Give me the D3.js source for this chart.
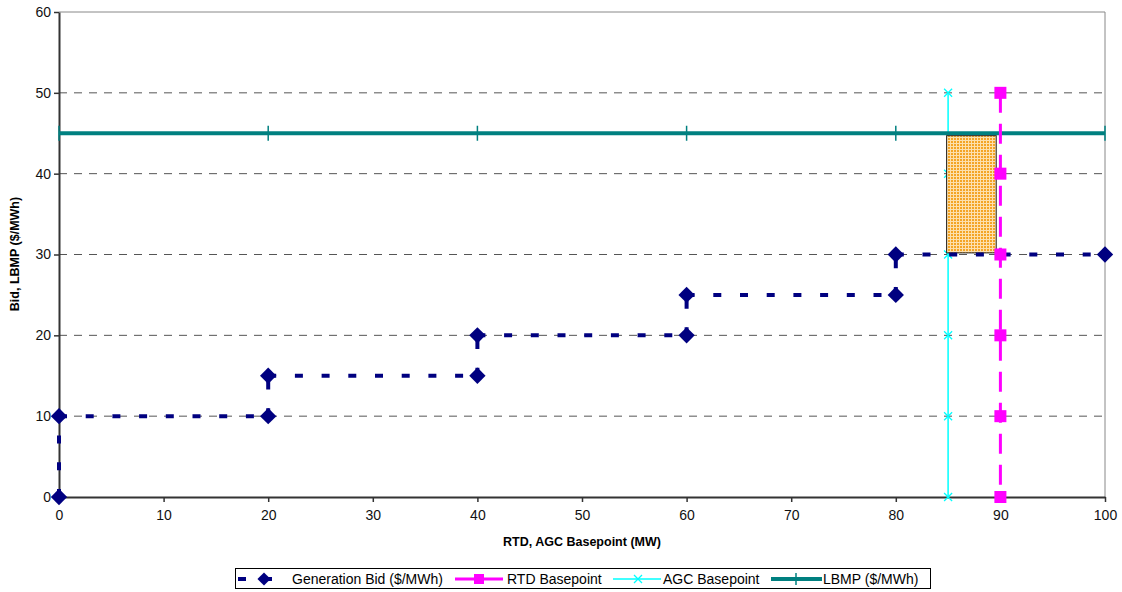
<!DOCTYPE html>
<html>
<head>
<meta charset="utf-8">
<script src="https://cdn.jsdelivr.net/npm/d3@7"></script>
<style>
  body { margin: 0; background: #fff; }
  svg { font-family: "Liberation Sans", Arial, sans-serif; }
</style>
</head>
<body>
<div class="chart"></div>
<script>
// data
const bidX = [0, 0, 20, 20, 40, 40, 60, 60, 80, 80, 100];
const bidY = [0, 10, 10, 15, 15, 20, 20, 25, 25, 30, 30];
const rtdX = [90, 90, 90, 90, 90, 90];
const rtdY = [0, 10, 20, 30, 40, 50];
const agcX = [85, 85, 85, 85, 85, 85];
const agcY = [0, 10, 20, 30, 40, 50];
const lbmpX = [0, 20, 40, 60, 80, 100];
const lbmpY = [45, 45, 45, 45, 45, 45];
const boxX = [85, 89.6];
const boxY = [30.2, 44.7];
const xTicks = [0, 10, 20, 30, 40, 50, 60, 70, 80, 90, 100];
const yTicks = [0, 10, 20, 30, 40, 50, 60];
const seriesNames = ["Generation Bid ($/MWh)", "RTD Basepoint", "AGC Basepoint", "LBMP ($/MWh)"];

const w = 1122;
const h = 592;
const padL = 59, padR = 1105, padT = 12, padB = 497;

const svg = d3.select('.chart').append('svg')
  .attr('width', w).attr('height', h);

const defs = svg.append('defs');
const pat = defs.append('pattern')
  .attr('id', 'hatch').attr('patternUnits', 'userSpaceOnUse')
  .attr('width', 3).attr('height', 3);
pat.append('rect').attr('width', 3).attr('height', 3).attr('fill', '#fde0ad');
pat.append('rect').attr('width', 2).attr('height', 2).attr('fill', '#f4a526');

const xScale = d3.scaleLinear().domain([0, 100]).range([padL, padR]);
const yScale = d3.scaleLinear().domain([0, 60]).range([padB, padT]);

// grid
svg.append('g').selectAll('line')
  .data(yTicks.filter(d => d > 0 && d < 60))
  .enter().append('line')
  .attr('x1', padL).attr('x2', padR)
  .attr('y1', d => yScale(d)).attr('y2', d => yScale(d))
  .attr('stroke', '#555').attr('stroke-width', 1)
  .attr('stroke-dasharray', '8,7');

// plot border top/right
svg.append('line').attr('x1', padL).attr('x2', padR).attr('y1', padT).attr('y2', padT)
  .attr('stroke', '#888');
svg.append('line').attr('x1', padR).attr('x2', padR).attr('y1', padT).attr('y2', padB)
  .attr('stroke', '#888');

// axes
const xAxis = d3.axisBottom(xScale).tickValues(xTicks).tickSize(5).tickSizeOuter(0).tickPadding(8);
const gx = svg.append('g').attr('transform', 'translate(0,' + padB + ')').call(xAxis);
const yAxis = d3.axisLeft(yScale).tickValues(yTicks).tickSize(5).tickSizeOuter(0).tickPadding(3);
const gy = svg.append('g').attr('transform', 'translate(' + padL + ',0)').call(yAxis);
[gx, gy].forEach(g => {
  g.select('.domain').attr('stroke', '#333').attr('stroke-width', 2);
  g.selectAll('.tick line').attr('stroke', '#333').attr('stroke-width', 1.5);
  g.selectAll('.tick text').attr('font-size', 14).attr('fill', '#111')
    .attr('font-family', '"Liberation Sans", Arial, sans-serif');
});

// axis titles
svg.append('text').text('RTD, AGC Basepoint (MW)')
  .attr('x', 582).attr('y', 546).attr('text-anchor', 'middle')
  .attr('font-size', 12.5).attr('font-weight', 'bold');
svg.append('text').text('Bid, LBMP ($/MWh)')
  .attr('transform', 'translate(19,254) rotate(-90)').attr('text-anchor', 'middle')
  .attr('font-size', 12.5).attr('font-weight', 'bold');

// AGC line
const agcPts = agcX.map((x, i) => [xScale(x), yScale(agcY[i])]);
svg.append('path').attr('d', d3.line()(agcPts))
  .attr('stroke', '#00ffff').attr('stroke-width', 1.5).attr('fill', 'none');
svg.append('g').selectAll('path').data(agcPts).enter().append('path')
  .attr('d', d => `M${d[0]-4},${d[1]-4}L${d[0]+4},${d[1]+4}M${d[0]-4},${d[1]+4}L${d[0]+4},${d[1]-4}`)
  .attr('stroke', '#00ffff').attr('stroke-width', 1.3);

// LBMP line
const lbmpPts = lbmpX.map((x, i) => [xScale(x), yScale(lbmpY[i])]);
svg.append('path').attr('d', d3.line()(lbmpPts))
  .attr('stroke', '#008080').attr('stroke-width', 4).attr('fill', 'none');
svg.append('g').selectAll('line').data(lbmpPts).enter().append('line')
  .attr('x1', d => d[0]).attr('x2', d => d[0])
  .attr('y1', d => d[1] - 7.5).attr('y2', d => d[1] + 7.5)
  .attr('stroke', '#008080').attr('stroke-width', 1.5);

// hatched box (drawn over the AGC line)
svg.append('rect')
  .attr('x', xScale(boxX[0]) - 1.5).attr('y', yScale(boxY[1]))
  .attr('width', xScale(boxX[1]) - xScale(boxX[0]) + 1.5)
  .attr('height', yScale(boxY[0]) - yScale(boxY[1]))
  .attr('fill', 'url(#hatch)').attr('stroke', '#222').attr('stroke-width', 1);

// Generation bid (segments dashed separately)
const bidPts = bidX.map((x, i) => [xScale(x), yScale(bidY[i])]);
for (let i = 0; i < bidPts.length - 1; i++) {
  svg.append('path').attr('d', d3.line()([bidPts[i], bidPts[i + 1]]))
    .attr('stroke', '#000080').attr('stroke-width', 4).attr('fill', 'none')
    .attr('stroke-dasharray', '8,18.7');
}
const diamond = d3.symbol().type(d3.symbolDiamond2).size(170);
svg.append('g').selectAll('path').data(bidPts).enter().append('path')
  .attr('d', diamond)
  .attr('transform', d => 'translate(' + d[0] + ',' + d[1] + ')')
  .attr('fill', '#000080');

// RTD line
const rtdPts = rtdX.map((x, i) => [xScale(x), yScale(rtdY[i])]);
svg.append('path').attr('d', d3.line()(rtdPts.slice().reverse()))
  .attr('stroke', '#ff00ff').attr('stroke-width', 3).attr('fill', 'none')
  .attr('stroke-dasharray', '20,11');
svg.append('g').selectAll('rect').data(rtdPts).enter().append('rect')
  .attr('x', d => d[0] - 6).attr('y', d => d[1] - 6)
  .attr('width', 12).attr('height', 12).attr('fill', '#ff00ff');

// legend
const lg = svg.append('g');
lg.append('rect').attr('x', 235.5).attr('y', 568.5).attr('width', 695).attr('height', 20)
  .attr('fill', '#fff').attr('stroke', '#000').attr('stroke-width', 1);
const ly = 579;
// gen bid
lg.append('line').attr('x1', 238).attr('x2', 246).attr('y1', ly).attr('y2', ly)
  .attr('stroke', '#000080').attr('stroke-width', 4);
lg.append('line').attr('x1', 262).attr('x2', 272).attr('y1', ly).attr('y2', ly)
  .attr('stroke', '#000080').attr('stroke-width', 4);
lg.append('path').attr('d', d3.symbol().type(d3.symbolDiamond2).size(110))
  .attr('transform', 'translate(264,' + ly + ')').attr('fill', '#000080');
// rtd
lg.append('line').attr('x1', 455).attr('x2', 503).attr('y1', ly).attr('y2', ly)
  .attr('stroke', '#ff00ff').attr('stroke-width', 3);
lg.append('rect').attr('x', 474).attr('y', ly - 5).attr('width', 10).attr('height', 10).attr('fill', '#ff00ff');
// agc
lg.append('line').attr('x1', 613).attr('x2', 661).attr('y1', ly).attr('y2', ly)
  .attr('stroke', '#00ffff').attr('stroke-width', 1.5);
lg.append('path').attr('d', `M634,${ly-4}L642,${ly+4}M634,${ly+4}L642,${ly-4}`)
  .attr('stroke', '#00ffff').attr('stroke-width', 1.3);
// lbmp
lg.append('line').attr('x1', 771).attr('x2', 822).attr('y1', ly).attr('y2', ly)
  .attr('stroke', '#008080').attr('stroke-width', 4);
lg.append('line').attr('x1', 796).attr('x2', 796).attr('y1', ly - 6).attr('y2', ly + 6)
  .attr('stroke', '#008080').attr('stroke-width', 1.5);
const labelX = [292, 507, 663, 823];
seriesNames.forEach((n, i) => {
  lg.append('text').text(n).attr('x', labelX[i]).attr('y', ly + 5)
    .attr('font-size', 14).attr('fill', '#000');
});
</script>
</body>
</html>
